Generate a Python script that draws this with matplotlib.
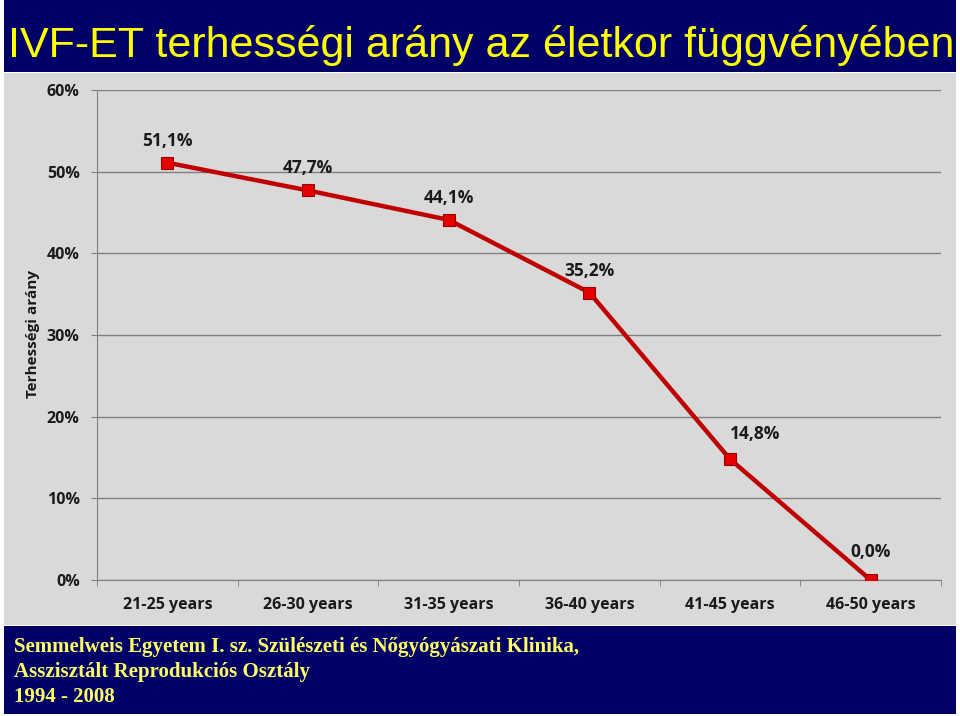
import matplotlib.pyplot as plt
from matplotlib.patches import Rectangle
from matplotlib.ticker import FixedLocator
from matplotlib import font_manager

# Adatok
korcsoportok = ['21-25 years', '26-30 years', '31-35 years', '36-40 years', '41-45 years', '46-50 years']
terhessegi_arany = [51.1, 47.7, 44.1, 35.2, 14.8, 0.0]
cimkek = ['51,1%', '47,7%', '44,1%', '35,2%', '14,8%', '0,0%']
y_tickek = [0, 10, 20, 30, 40, 50, 60]

W, H = 960, 716
fig = plt.figure(figsize=(W / 100, H / 100), dpi=100)
fig.patch.set_facecolor('white')

def px_rect(x0, y0, x1, y1, color):
    """Téglalap pixel koordinátákból (y felülről)."""
    fig.patches.append(Rectangle((x0 / W, 1 - y1 / H), (x1 - x0) / W, (y1 - y0) / H,
                                 transform=fig.transFigure, facecolor=color,
                                 edgecolor='none', zorder=-10))

navy = '#000066'
px_rect(4, 0, 956, 72, navy)
px_rect(4, 73, 956, 625, '#d9d9d9')
px_rect(4, 626, 956, 714, navy)

# Cím (keskeny betűtípus, ha van)
nevek = {f.name for f in font_manager.fontManager.ttflist}
cim_font = 'Liberation Sans Narrow' if 'Liberation Sans Narrow' in nevek else 'Liberation Sans'
cim_meret = 38 if cim_font == 'Liberation Sans Narrow' else 31
fig.text(481 / W, 1 - 45 / H, 'IVF-ET terhességi arány az életkor függvényében',
         ha='center', va='center', color='#ffff00', fontsize=cim_meret,
         family=cim_font)

# Lábléc
lablec = ['Semmelweis Egyetem I. sz. Szülészeti és Nőgyógyászati Klinika,',
          'Asszisztált Reprodukciós Osztály',
          '1994 - 2008']
for i, sor in enumerate(lablec):
    fig.text(14 / W, 1 - (647 + i * 25) / H, sor, ha='left', va='center',
             color='#ffff66', fontsize=15, fontweight='bold', family='Liberation Serif')

ax = fig.add_axes([97 / W, 1 - 580 / H, (941 - 97) / W, (580 - 90) / H])
ax.set_facecolor('none')

x = list(range(len(korcsoportok)))
ax.plot(x, terhessegi_arany, color='#c00000', lw=3.2, zorder=3,
        marker='s', markersize=9, markerfacecolor='#e60000',
        markeredgecolor='#990000', markeredgewidth=0.8)

eltolas = [(0, 22), (0, 22), (0, 22), (0, 22), (25, 25), (0, 28)]
for xi, yi, c, (dx, dy) in zip(x, terhessegi_arany, cimkek, eltolas):
    ax.annotate(c, (xi, yi), xytext=(dx, dy), textcoords='offset pixels',
                ha='center', va='center', fontsize=12.5, fontweight='bold',
                color='#1a1a1a', family='Open Sans')

ax.set_xlim(-0.5, len(korcsoportok) - 0.5)
ax.set_ylim(0, 60)
ax.set_yticks(y_tickek)
ax.set_yticklabels([f'{v}%' for v in y_tickek])
ax.yaxis.grid(True, color='#7f7f7f', lw=1)
ax.set_axisbelow(True)

ax.set_xticks(x)
ax.set_xticklabels(korcsoportok)
ax.xaxis.set_minor_locator(FixedLocator([i - 0.5 for i in range(len(korcsoportok) + 1)]))
ax.tick_params(axis='x', which='major', length=0, pad=12)
ax.tick_params(axis='x', which='minor', length=4, color='#7f7f7f', direction='out')
ax.tick_params(axis='y', length=4.5, color='#7f7f7f', pad=8)
for lbl in ax.get_xticklabels() + ax.get_yticklabels():
    lbl.set_fontsize(11.5)
    lbl.set_fontweight('bold')
    lbl.set_family('Open Sans')
    lbl.set_color('#1a1a1a')

for s in ['top', 'right']:
    ax.spines[s].set_visible(False)
ax.spines['left'].set_color('#7f7f7f')
ax.spines['bottom'].set_color('#7f7f7f')

fig.text(33 / W, 1 - 334 / H, 'Terhességi arány', rotation=90, ha='center', va='center',
         fontsize=11, fontweight='bold', family='Open Sans', color='#1a1a1a')

fig.savefig('out.png', dpi=100)
